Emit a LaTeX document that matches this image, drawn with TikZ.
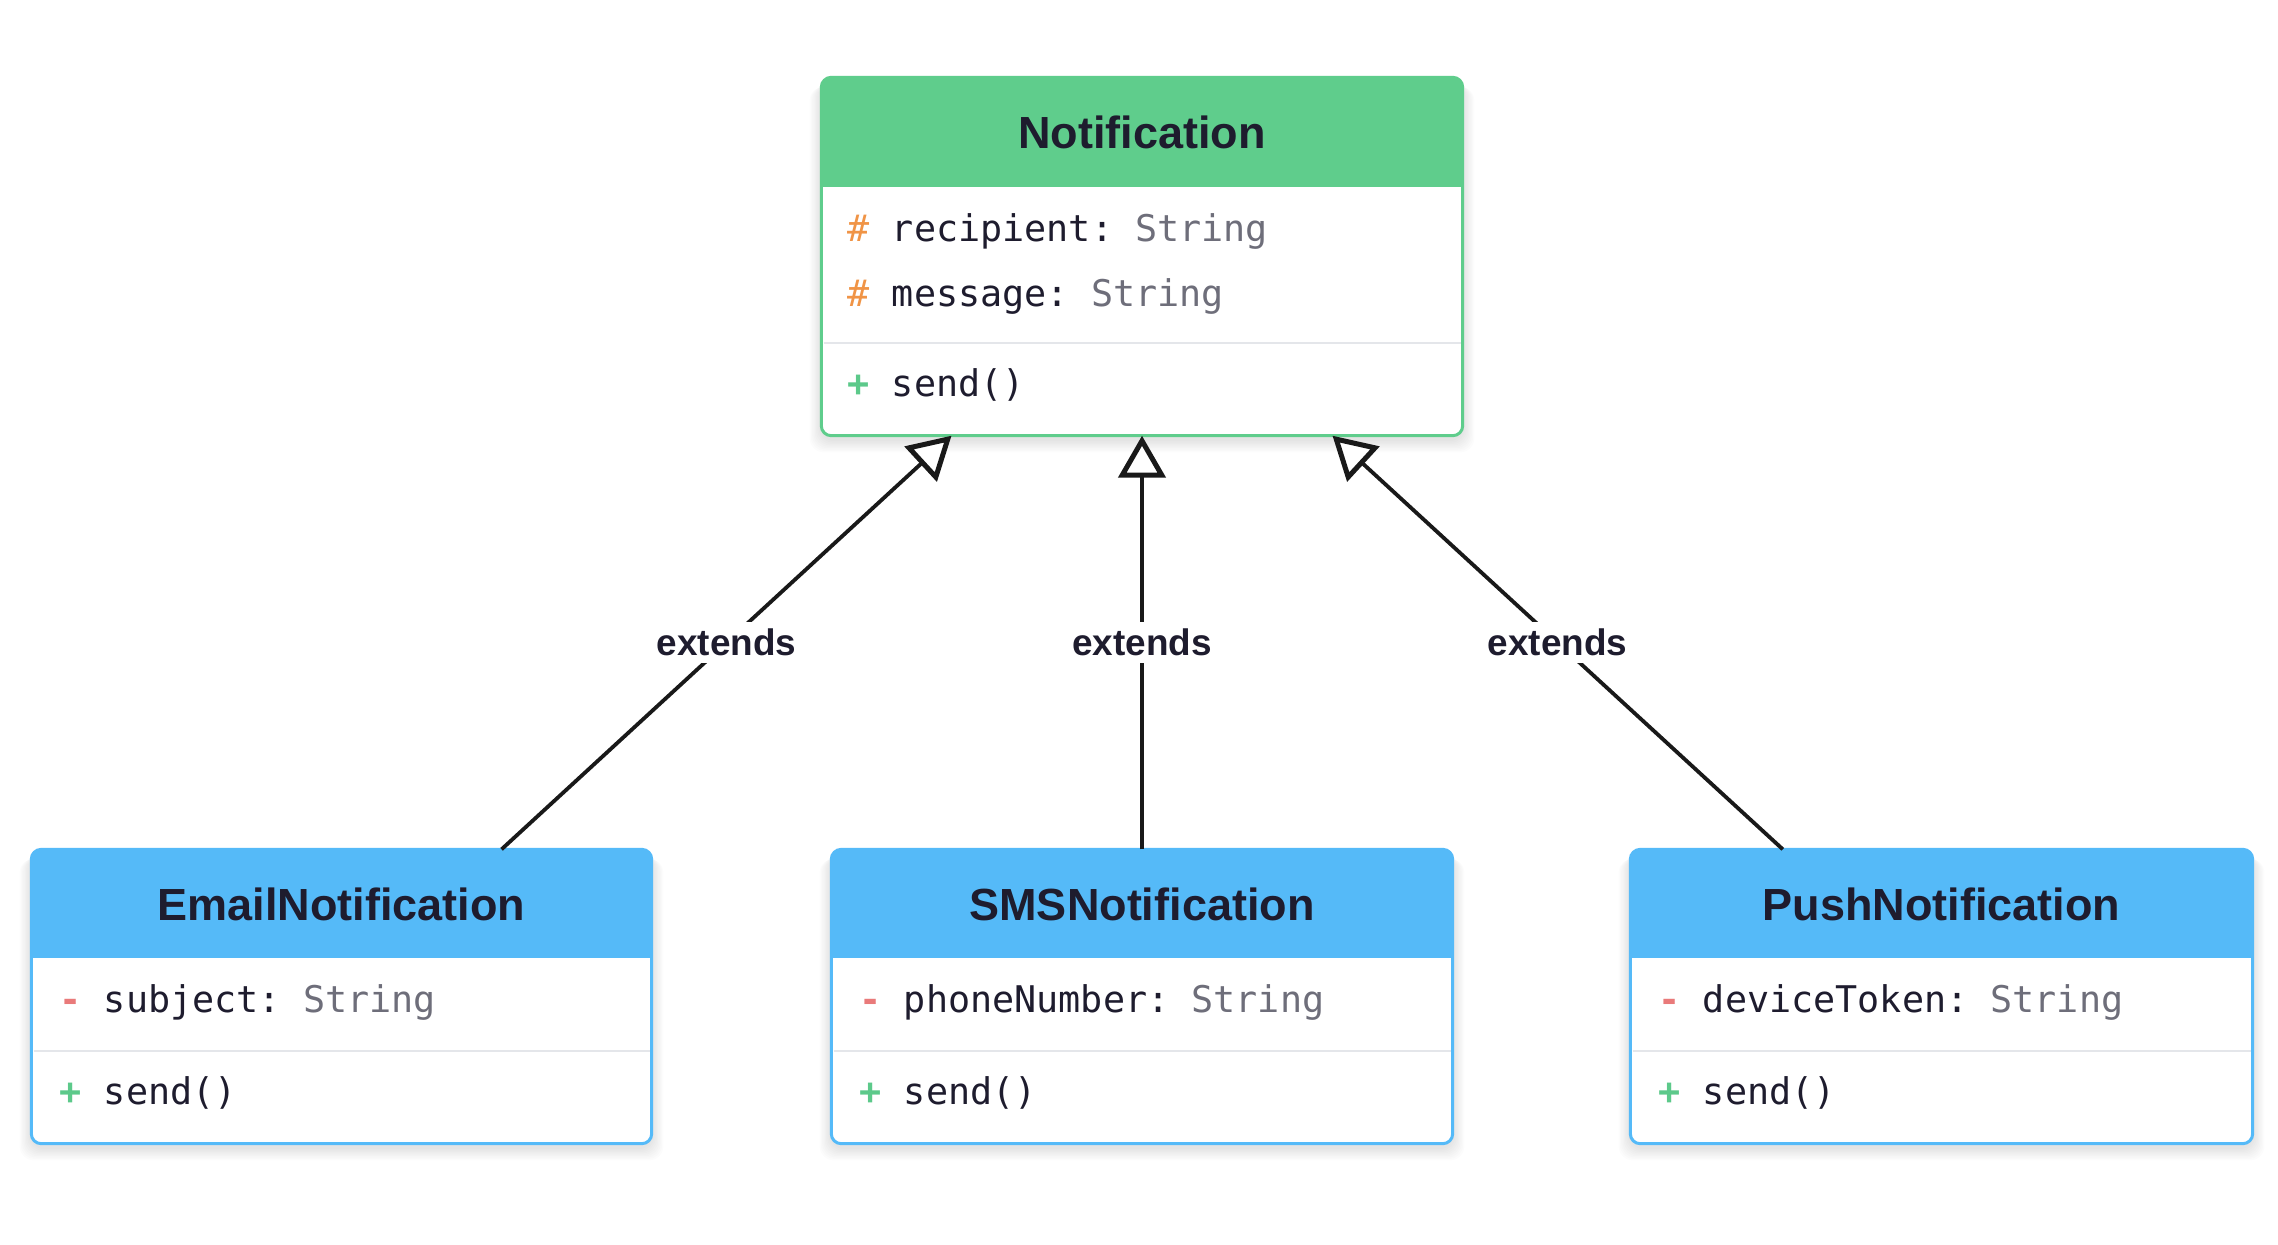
\documentclass[tikz,border=0pt]{standalone}
\usepackage{fontspec}
\setmainfont{Liberation Sans}
\newfontfamily\umlmono{DejaVu Sans Mono}
\usetikzlibrary{arrows.meta,calc,fit}
\definecolor{cgreen}{RGB}{95,205,140}
\definecolor{cblue}{RGB}{85,186,248}
\definecolor{cdark}{RGB}{30,28,46}
\definecolor{corange}{RGB}{240,148,70}
\definecolor{cred}{RGB}{233,122,122}
\definecolor{cplus}{RGB}{92,201,138}
\definecolor{cgray}{RGB}{110,110,122}
\definecolor{csep}{RGB}{228,230,234}
\definecolor{cline}{RGB}{25,25,25}
\newcommand\umlbox[7]{%
  \node[fit={(#2,#3) (#4,#5)}, inner sep=0pt] (#1) {};
  \foreach \e in {1,...,9}{%
    \fill[black, opacity=0.011, rounded corners=0.14cm]
      ($(#1.north west)+(-1.3*\e,4+0.6*\e)$) rectangle ($(#1.south east)+(1.3*\e,4+1.4*\e)$);
  }
  \fill[white, rounded corners=0.1cm] (#1.north west) rectangle (#1.south east);
  \begin{scope}
    \clip[rounded corners=0.1cm] (#1.north west) rectangle (#1.south east);
    \fill[#7] (#1.north west) rectangle (#4,#6);
  \end{scope}
  \draw[#7, line width=0.03cm, rounded corners=0.1cm] (#1.north west) rectangle (#1.south east);
}
\begin{document}
\begin{tikzpicture}[x=0.01cm, y=-0.01cm,
  title/.style={font=\fontsize{12.8}{15}\selectfont\bfseries, text=cdark, inner sep=0pt},
  mem/.style={anchor=west, inner sep=0pt, font=\umlmono\fontsize{10.45}{12}\selectfont\frenchspacing, text=cdark},
  sepline/.style={draw=csep, line width=0.02cm},
  lbl/.style={fill=white, font=\fontsize{10.5}{12}\selectfont\bfseries, text=cdark, inner sep=2pt},
  ext/.style={draw=cline, line width=0.038cm, -{Triangle[length=0.42cm, width=0.47cm, fill=white, line width=0.05cm]}}
]
\fill[white] (0,0) rectangle (2278,1244);
\useasboundingbox (0,0) rectangle (2278,1244);

% Notification
\umlbox{notif}{822}{78}{1462}{435}{187}{cgreen}
\draw[sepline] (823.5,343) -- (1460.5,343);
\node[title] (tnotif) at (1142,132) {Notification};
\node[mem] (na) at (847,231) {\textcolor{corange}{\#} recipient: \textcolor{cgray}{String}};
\node[mem] (nb) at (847,296) {\textcolor{corange}{\#} message: \textcolor{cgray}{String}};
\node[mem] (nc) at (847,385) {\textcolor{cplus}{\textbf{+}} send()};

% EmailNotification
\umlbox{email}{32}{850}{651}{1143}{958}{cblue}
\draw[sepline] (33.5,1051) -- (649.5,1051);
\node[title] (temail) at (341.5,904) {EmailNotification};
\node[mem] (ea) at (59,1002) {\textcolor{cred}{\textbf{-}} subject: \textcolor{cgray}{String}};
\node[mem] (eb) at (59,1093) {\textcolor{cplus}{\textbf{+}} send()};

% SMSNotification
\umlbox{sms}{832}{850}{1452}{1143}{958}{cblue}
\draw[sepline] (833.5,1051) -- (1450.5,1051);
\node[title] (tsms) at (1142,904) {SMSNotification};
\node[mem] (sa) at (859,1002) {\textcolor{cred}{\textbf{-}} phoneNumber: \textcolor{cgray}{String}};
\node[mem] (sb) at (859,1093) {\textcolor{cplus}{\textbf{+}} send()};

% PushNotification
\umlbox{push}{1631}{850}{2252}{1143}{958}{cblue}
\draw[sepline] (1632.5,1051) -- (2250.5,1051);
\node[title] (tpush) at (1941.5,904) {PushNotification};
\node[mem] (pa) at (1658,1002) {\textcolor{cred}{\textbf{-}} deviceToken: \textcolor{cgray}{String}};
\node[mem] (pb) at (1658,1093) {\textcolor{cplus}{\textbf{+}} send()};

% connectors
\draw[ext] ($(email.north west)!0.758!(email.north east)$) -- node[lbl] (l1) {extends} ($(notif.south west)!0.203!(notif.south east)$);
\draw[ext] (sms.north) -- node[lbl] (l2) {extends} (notif.south);
\draw[ext] ($(push.north west)!0.245!(push.north east)$) -- node[lbl] (l3) {extends} ($(notif.south west)!0.797!(notif.south east)$);
\end{tikzpicture}
\end{document}
